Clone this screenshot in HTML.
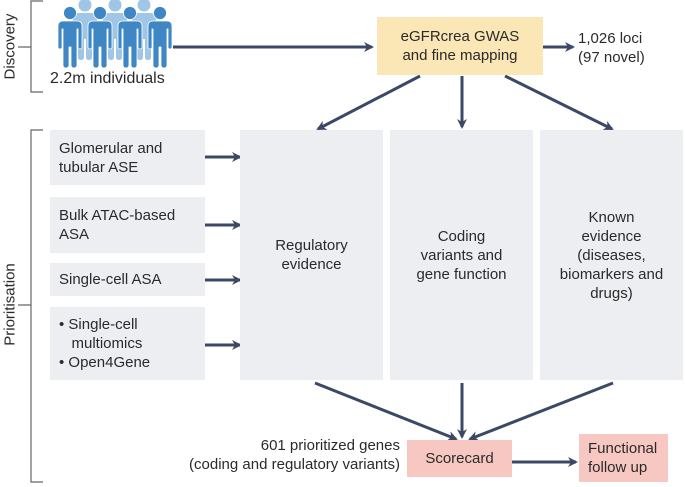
<!DOCTYPE html>
<html><head><style>
body{margin:0;width:685px;height:487px;background:#fff;position:relative;font-family:"Liberation Sans",sans-serif;color:#2a2a2a;overflow:hidden}
.a{position:absolute}
.box{position:absolute;background:#eceef1;font-size:15px;line-height:19px;box-sizing:border-box}
.c{display:flex;align-items:center;justify-content:center;text-align:center}
</style></head><body>
<svg class="a" style="left:0;top:0" width="685" height="487">
<defs><marker id="m" markerWidth="10" markerHeight="10" refX="8" refY="5" orient="auto" markerUnits="userSpaceOnUse"><path d="M0,0 L10,5 L0,10 L3,5z" fill="#3b4866"/></marker>
<g id="p"><circle cx="0" cy="0" r="6.5"/><path d="M-12,13 Q-12,8 -7,8 H7 Q12,8 12,13 V34 Q12,36 10,36 Q8,36 8,34 V16 H7 V52 Q7,55 4,55 Q1,55 1,52 V34 H-1 V52 Q-1,55 -4,55 Q-7,55 -7,52 V16 H-8 V34 Q-8,36 -10,36 Q-12,36 -12,34 Z"/></g>
</defs>
<g stroke="#666" stroke-width="1.2" fill="none">
<path d="M43,1 H31 V92 H43 M31,47 H18"/>
<path d="M43,130 H31 V482 H43 M31,305 H18"/>
</g>
<g fill="#9fc6e6">
<use href="#p" x="85" y="5"/><use href="#p" x="115" y="5"/><use href="#p" x="144" y="5"/>
</g>
<g fill="#3f87c4" stroke="#fff" stroke-width="0.8">
<use href="#p" x="70" y="13"/><use href="#p" x="100" y="13"/><use href="#p" x="130" y="13"/><use href="#p" x="160" y="13"/>
</g>
<g stroke="#3b4866" stroke-width="3" fill="none" marker-end="url(#m)">
<path d="M173,47 H372"/>
<path d="M543,47 H573" marker-end=""/>
<path d="M420,76 L318,129"/><path d="M462,76 V127"/><path d="M505,76 L612,129"/>
<path d="M205,157 H240"/><path d="M205,225 H240"/><path d="M205,280 H240"/><path d="M205,345 H240"/>
<path d="M315,383 L456,439"/><path d="M462,383 V437"/><path d="M613,383 L470,439"/>
<path d="M512,462 H576"/>
</g>
</svg>
<div class="a" style="left:-30px;top:38px;width:80px;text-align:center;transform:rotate(-90deg);font-size:15px">Discovery</div>
<div class="a" style="left:-50px;top:296px;width:120px;text-align:center;transform:rotate(-90deg);font-size:15px">Prioritisation</div>
<div class="a" style="left:50px;top:70px;font-size:16px">2.2m individuals</div>
<div class="box c" style="left:377px;top:17px;width:166px;height:58px;background:#fbe7b6">eGFRcrea GWAS<br>and fine mapping</div>
<div class="a" style="left:578px;top:29px;font-size:15px;line-height:19px">1,026 loci<br>(97 novel)</div>
<div class="box" style="left:50px;top:130px;width:155px;height:55px;padding:9px 0 0 9px">Glomerular and<br>tubular ASE</div>
<div class="box" style="left:50px;top:197px;width:155px;height:56px;padding:9px 0 0 9px">Bulk ATAC-based<br>ASA</div>
<div class="box" style="left:50px;top:263px;width:155px;height:33px;padding:7px 0 0 9px">Single-cell ASA</div>
<div class="box" style="left:50px;top:307px;width:155px;height:73px;padding:8px 0 0 9px">• Single-cell<br>&nbsp;&nbsp;&nbsp;multiomics<br>• Open4Gene</div>
<div class="box c" style="left:240px;top:130px;width:143px;height:250px">Regulatory<br>evidence</div>
<div class="box c" style="left:390px;top:130px;width:143px;height:250px">Coding<br>variants and<br>gene function</div>
<div class="box c" style="left:540px;top:130px;width:143px;height:250px">Known<br>evidence<br>(diseases,<br>biomarkers and<br>drugs)</div>
<div class="a" style="left:100px;top:436px;width:300px;text-align:right;font-size:15px;line-height:19px">601 prioritized genes<br>(coding and regulatory variants)</div>
<div class="box c" style="left:407px;top:440px;width:105px;height:37px;background:#f6c8c1">Scorecard</div>
<div class="box" style="left:579px;top:434px;width:89px;height:48px;background:#f6c8c1;padding:5px 0 0 9px">Functional<br>follow up</div>
</body></html>
